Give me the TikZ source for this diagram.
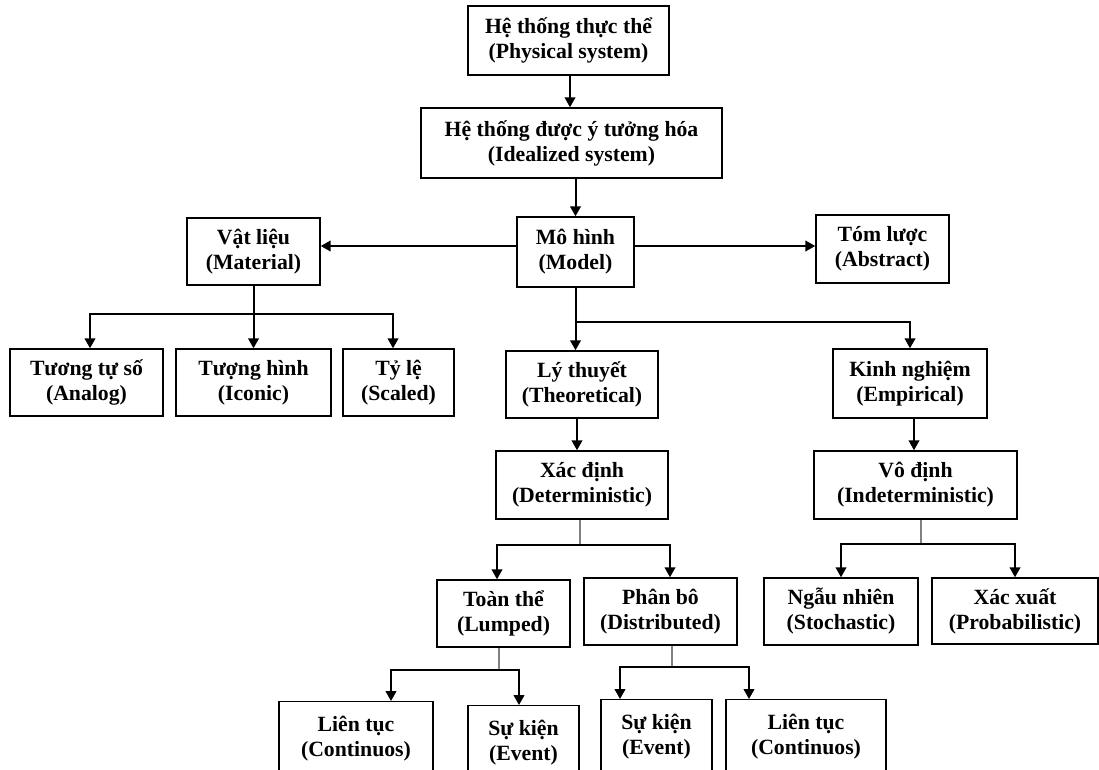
\documentclass[tikz,border=0pt]{standalone}
\usepackage{fontspec}
\setmainfont{Liberation Serif}
\usetikzlibrary{arrows.meta,calc}
\begin{document}
\begin{tikzpicture}[x=0.75pt,y=-0.75pt,
  box/.style={draw,line width=1.1pt,inner sep=0pt,align=center,
    font=\fontsize{16.3}{18.75}\selectfont\bfseries},
  lowbox/.style={box,minimum height=84*0.75pt,text depth=14*0.75pt},
  ln/.style={line width=1.5pt},
  arr/.style={line width=1.5pt,-{Triangle[length=7.5pt,width=8pt]}},
  gline/.style={line width=1.2pt,draw=black!50}]
\useasboundingbox (0,0) rectangle (1099,769);

% boxes: centre, width, height in px
\node[box,minimum width=201*0.75pt,minimum height=69*0.75pt] (phys) at (568.5,40.5) {Hệ thống thực thể\\(Physical system)};
\node[box,minimum width=301*0.75pt,minimum height=70*0.75pt] (ideal) at (571.5,143) {Hệ thống được ý tưởng hóa\\(Idealized system)};
\node[box,minimum width=117*0.75pt,minimum height=70*0.75pt] (model) at (575.5,252) {Mô hình\\(Model)};
\node[box,minimum width=133*0.75pt,minimum height=67*0.75pt] (mat) at (253.5,251.5) {Vật liệu\\(Material)};
\node[box,minimum width=133*0.75pt,minimum height=68*0.75pt] (abs) at (882.5,249) {Tóm lược\\(Abstract)};
\node[box,minimum width=153*0.75pt,minimum height=67*0.75pt] (analog) at (86.5,382.5) {Tương tự số\\(Analog)};
\node[box,minimum width=155*0.75pt,minimum height=67*0.75pt] (iconic) at (253.5,382.5) {Tượng hình\\(Iconic)};
\node[box,minimum width=111*0.75pt,minimum height=67*0.75pt] (scaled) at (398.5,382.5) {Tỷ lệ\\(Scaled)};
\node[box,minimum width=152*0.75pt,minimum height=67*0.75pt] (theo) at (582,384.5) {Lý thuyết\\(Theoretical)};
\node[box,minimum width=154*0.75pt,minimum height=69*0.75pt] (emp) at (910,383.5) {Kinh nghiệm\\(Empirical)};
\node[box,minimum width=172*0.75pt,minimum height=68*0.75pt] (det) at (582,485) {Xác định\\(Deterministic)};
\node[box,minimum width=203*0.75pt,minimum height=68*0.75pt] (indet) at (915.5,485) {Vô định\\(Indeterministic)};
\node[box,minimum width=133*0.75pt,minimum height=67*0.75pt] (lump) at (503.5,613.5) {Toàn thể\\(Lumped)};
\node[box,minimum width=153*0.75pt,minimum height=67*0.75pt] (dist) at (660.5,611.5) {Phân bô\\(Distributed)};
\node[box,minimum width=154*0.75pt,minimum height=67*0.75pt] (stoch) at (841,611.5) {Ngẫu nhiên\\(Stochastic)};
\node[box,minimum width=166*0.75pt,minimum height=66*0.75pt] (prob) at (1015,611) {Xác xuất\\(Probabilistic)};

% bottom row: boxes run past the lower edge of the page
\node[lowbox,minimum width=154*0.75pt,anchor=north] (contL) at (356,701) {Liên tục\\(Continuos)};
\node[lowbox,minimum width=111*0.75pt,anchor=north] (evL) at (523.5,705) {Sự kiện\\(Event)};
\node[lowbox,minimum width=111*0.75pt,anchor=north] (evD) at (656.5,699) {Sự kiện\\(Event)};
\node[lowbox,minimum width=160*0.75pt,anchor=north] (contD) at (806,699) {Liên tục\\(Continuos)};

% top chain
\draw[arr] ($(phys.south)+(1.5,0)$) -- ($(phys.south |- ideal.north)+(1.5,0)$);
\draw[arr] (ideal.south -| model.north) -- (model.north);

% model to the sides
\draw[arr] ($(model.west)+(0,-6)$) -- ($(mat.east |- model.west)+(0,-6)$);
\draw[arr] ($(model.east)+(0,-6)$) -- ($(abs.west |- model.east)+(0,-6)$);

% material branches
\draw[arr] (mat.south) -- ++(0,28) -| ($(analog.north)+(3.5,0)$);
\draw[arr] (mat.south) -- (iconic.north);
\draw[arr] (mat.south) -- ++(0,28) -| ($(scaled.north)+(-5.5,0)$);

% model branches
\draw[arr] (model.south) -- (model.south |- theo.north);
\draw[arr] (model.south) -- ++(0,34) -| (emp.north);

% theoretical side
\draw[arr] ($(theo.south)+(-5,0)$) -- ($(det.north)+(-5,0)$);
\draw[gline] ($(det.south)+(-2,0)$) -- ++(0,25);
\draw[arr] ($(det.south)+(-2,25)$) -| ($(lump.north)+(-6.5,0)$);
\draw[arr] ($(det.south)+(-2,25)$) -| ($(dist.north)+(9.5,0)$);

% lumped
\draw[gline] ($(lump.south)+(-4.5,0)$) -- ++(0,22);
\draw[arr] ($(lump.south)+(-4.5,22)$) -| ($(contL.north)+(35,0)$);
\draw[arr] ($(lump.south)+(-4.5,22)$) -| ($(evL.north)+(-4.5,0)$);

% distributed
\draw[gline] ($(dist.south)+(11.5,0)$) -- ++(0,21);
\draw[arr] ($(dist.south)+(11.5,21)$) -| ($(evD.north)+(-36.5,0)$);
\draw[arr] ($(dist.south)+(11.5,21)$) -| ($(contD.north)+(-57,0)$);

% empirical side
\draw[arr] ($(emp.south)+(4,0)$) -- ($(emp.south |- indet.north)+(4,0)$);
\draw[gline] ($(indet.south)+(5.5,0)$) -- ++(0,24);
\draw[arr] ($(indet.south)+(5.5,24)$) -| (stoch.north);
\draw[arr] ($(indet.south)+(5.5,24)$) -| (prob.north);
\end{tikzpicture}
\end{document}
